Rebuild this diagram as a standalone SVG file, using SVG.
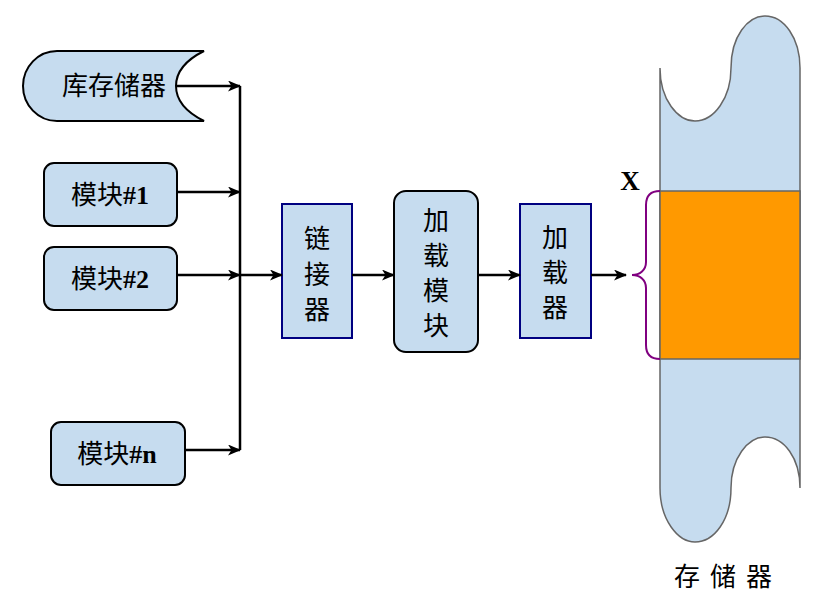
<svg xmlns="http://www.w3.org/2000/svg" width="822" height="597" viewBox="0 0 822 597">
<style>
.node{fill:#c6dcef;stroke:#000;stroke-width:2}
.blue{fill:#c6dcef;stroke:#000080;stroke-width:2}
.cn{font-family:"Noto Sans CJK SC","Noto Sans CJK JP",sans-serif;font-size:26px;fill:#000}
.lat{font-family:"Liberation Serif",serif;font-weight:bold;font-size:26px}
.ln{fill:none;stroke:#000;stroke-width:2.5}
</style>
<defs>
<marker id="ah" markerWidth="13" markerHeight="11" refX="12" refY="5.5" orient="auto" markerUnits="userSpaceOnUse">
<path d="M0,0 L13,5.5 L0,11 L3.5,5.5 Z" fill="#000"/>
</marker>
</defs>
<rect width="822" height="597" fill="#fff"/>
<g id="storage">
<path d="M660,68 C660,100 678,121 695,121 C714,121 731,98 731,68 C731,36 748,16 765,16 C784,16 800,38 800,68 L800,488 C800,458 784,437 765,437 C748,437 731,458 731,488 C731,520 714,542 695,542 C678,542 660,520 660,488 Z" fill="#c6dcef" stroke="#666" stroke-width="1.5"/>
<rect x="660" y="191" width="140" height="168" fill="#ff9900" stroke="#666" stroke-width="1.5"/>
<text x="728" y="586" class="cn" text-anchor="middle" letter-spacing="10">存储器</text>
</g>
<g id="brace">
<path d="M660,191 C650,191 646,196 646,205 L646,262 C646,270 640,275 632,275 C640,275 646,280 646,288 L646,345 C646,354 650,359 660,359" fill="none" stroke="#800080" stroke-width="2"/>
<text x="630" y="190" font-family="Liberation Serif,serif" font-weight="bold" font-size="27" text-anchor="middle">X</text>
</g>
<g id="lib">
<path d="M57,51 L204,51 C186,60 176,72 176,86 C176,100 186,112 204,121 L57,121 C38,121 23,105 23,86 C23,67 38,51 57,51 Z" class="node"/>
<text x="114" y="95" class="cn" text-anchor="middle">库存储器</text>
</g>
<g id="m1">
<rect x="44" y="163" width="133" height="63" rx="10" class="node"/>
<text x="110" y="204" text-anchor="middle"><tspan class="cn">模块</tspan><tspan class="lat">#1</tspan></text>
</g>
<g id="m2">
<rect x="44" y="247" width="133" height="63" rx="10" class="node"/>
<text x="110" y="288" text-anchor="middle"><tspan class="cn">模块</tspan><tspan class="lat">#2</tspan></text>
</g>
<g id="mn">
<rect x="51" y="422" width="134" height="63" rx="10" class="node"/>
<text x="117" y="463" text-anchor="middle"><tspan class="cn">模块</tspan><tspan class="lat">#n</tspan></text>
</g>
<g id="linker">
<rect x="282" y="204" width="70" height="134" class="blue"/>
<text class="cn" x="317" text-anchor="middle"><tspan x="317" y="248">链</tspan><tspan x="317" y="284">接</tspan><tspan x="317" y="319">器</tspan></text>
</g>
<g id="loadmod">
<rect x="394" y="191" width="84" height="161" rx="12" class="node"/>
<text class="cn" x="436" text-anchor="middle"><tspan x="436" y="230">加</tspan><tspan x="436" y="265">载</tspan><tspan x="436" y="300">模</tspan><tspan x="436" y="335">块</tspan></text>
</g>
<g id="loader">
<rect x="520" y="204" width="71" height="134" class="blue"/>
<text class="cn" x="555" text-anchor="middle"><tspan x="555" y="247">加</tspan><tspan x="555" y="282">载</tspan><tspan x="555" y="317">器</tspan></text>
</g>
<g id="connectors">
<line x1="240" y1="86" x2="240" y2="450" class="ln"/>
<line x1="176" y1="86" x2="240" y2="86" class="ln" marker-end="url(#ah)"/>
<line x1="177" y1="192" x2="240" y2="192" class="ln" marker-end="url(#ah)"/>
<line x1="177" y1="275" x2="240" y2="275" class="ln" marker-end="url(#ah)"/>
<line x1="185" y1="450" x2="240" y2="450" class="ln" marker-end="url(#ah)"/>
<line x1="240" y1="275" x2="282" y2="275" class="ln" marker-end="url(#ah)"/>
<line x1="352" y1="275" x2="394" y2="275" class="ln" marker-end="url(#ah)"/>
<line x1="478" y1="275" x2="520" y2="275" class="ln" marker-end="url(#ah)"/>
<line x1="591" y1="275" x2="626" y2="275" class="ln" marker-end="url(#ah)"/>
</g>
</svg>
